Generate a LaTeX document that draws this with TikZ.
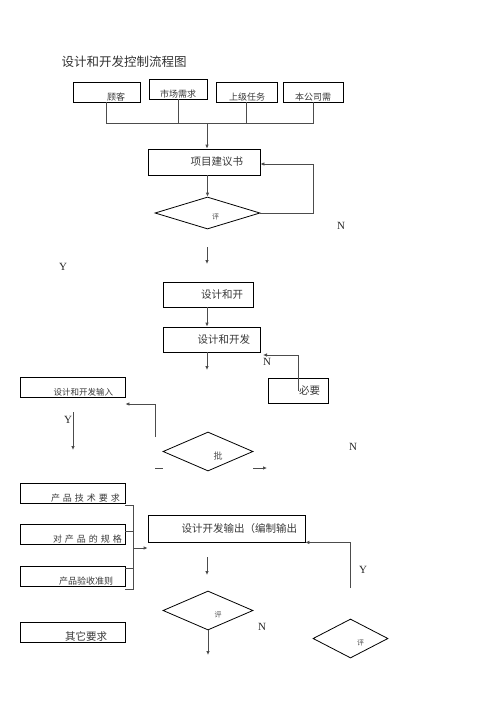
\documentclass[tikz,border=0pt]{standalone}
\usepackage{fontspec}
\setmainfont{Liberation Serif}
\newfontfamily\cjk{Noto Sans CJK SC}
\usetikzlibrary{arrows.meta,shapes.geometric}

\begin{document}
\begin{tikzpicture}[
  x=1pt, y=-1pt,
  >=Latex,
  box/.style={draw, line width=0.8pt, align=right, inner ysep=0pt, inner xsep=8pt, minimum height=20pt, text=black!78, font=\cjk\fontsize{10.5}{12}\selectfont},
  lowbox/.style={box, text height=16pt, text depth=0pt},
  topbox/.style={lowbox, font=\cjk\fontsize{9}{11}\selectfont},
  lbox/.style={lowbox, font=\cjk\fontsize{9}{11}\selectfont},
  dia/.style={draw, diamond, line width=0.8pt, inner sep=0pt, minimum width=90pt, minimum height=39pt},
  pzlab/.style={text=black!70, font=\cjk\fontsize{7}{8}\selectfont},
  yn/.style={text=black!85, font=\fontsize{11}{13}\selectfont},
  line/.style={draw=black!70, line width=0.9pt},
  arrow/.style={line, -{Latex[length=4pt,width=3.6pt]}}
]
\useasboundingbox (0,0) rectangle (496,702);
\node[anchor=west, text=black!80, font=\cjk\fontsize{12.5}{14}\selectfont] (title) at (58,62) {设计和开发控制流程图};
% inputs
\node[topbox, text width=37pt, inner xsep=15pt] (gk) at (106.5,92) {顾客};
\node[topbox, text width=42pt, align=center] (sc1) at (178,89) {市场需求};
\node[topbox, text width=37pt, inner xsep=12pt] (sj) at (246.5,92) {上级任务};
\node[topbox, text width=36pt, inner xsep=12pt] (bx) at (313,92) {本公司需};
\coordinate (bus) at (207,123);
\draw[line] (gk.south) -- (gk.south |- bus) -- (bx.south |- bus) -- (bx.south);
\draw[line] (sc1.south) -- (sc1.south |- bus);
\draw[line] (sj.south) -- (sj.south |- bus);
% proposal and review
\node[box, text width=78pt, inner xsep=17pt, minimum height=26pt] (jyb) at (204,162) {项目建议书};
\node[dia, minimum width=105pt, minimum height=32pt, label={[pzlab, xshift=8pt, yshift=-4pt]center:评}] (ps1) at (207.5,213) {};
\draw[arrow] (bus) -- (bus |- jyb.north);
\draw[arrow] (ps1.north |- jyb.south) -- (ps1.north);
\coordinate (f1) at (313,164);
\draw[arrow] (ps1.east) -| (f1) -- (jyb.east |- f1);
\node[yn] (n1) at (341,226) {N};
\coordinate (a1) at (207,247);
\coordinate (a1e) at (207,264);
\draw[arrow] (a1) -- (a1e);
\node[yn] (y1) at (63,267) {Y};
% planning and input
\node[box, text width=70pt, inner xsep=10pt, minimum height=25pt] (kf1) at (208,294.5) {设计和开};
\node[box, text width=77pt, inner xsep=10pt, minimum height=25pt] (kf2) at (211.5,339.5) {设计和开发};
\draw[arrow] (a1 |- kf1.south) -- (a1 |- kf2.north);
\coordinate (a2e) at (207,370);
\draw[arrow] (a1 |- kf2.south) -- (a2e);
\node[yn] (n2) at (267,362) {N};
\node[box, text width=44pt, minimum height=25pt] (bixu) at (298,390.5) {必要};
\coordinate (f2) at (263,355);
\draw[arrow] (bixu.center) |- (f2);
\node[lbox, font=\cjk\fontsize{8.5}{10}\selectfont, text width=81pt, inner xsep=12pt] (srb) at (72.5,387) {设计和开发输入};
\coordinate (f3a) at (155,437);
\coordinate (f3b) at (155,404);
\draw[arrow] (f3a) -- (f3b) -- (srb.east |- f3b);
\node[yn] (y2) at (68,420) {Y};
\coordinate (a3) at (73,412);
\coordinate (a3e) at (73,450);
\draw[arrow] (a3) -- (a3e);
% approval
\node[dia, label={[pzlab, font=\cjk\fontsize{9}{10}\selectfont, xshift=10pt, yshift=-5pt]center:批}] (pz) at (208,451.5) {};
\coordinate (s1) at (155,468);
\draw[line] (s1) -- (s1 -| pz.west);
\coordinate (s2) at (267,468);
\draw[arrow] (s2 -| pz.east) -- (s2);
\node[yn] (n3) at (353,447) {N};
% output
\node[lbox, text width=95pt, inner xsep=5pt] (cpA) at (72.5,493) {产 品 技 术 要 求};
\node[lbox, text width=99pt, inner xsep=3pt] (cpB) at (72.5,534) {对 产 品 的 规 格};
\node[lbox, text width=81pt, inner xsep=12pt] (cpC) at (72.5,576) {产品验收准则};
\node[lowbox, text width=69pt, inner xsep=18pt] (qt) at (72.5,632.5) {其它要求};
\node[box, text width=141pt, minimum height=27pt] (sc) at (226.5,528.5) {设计开发输出（编制输出};
\coordinate (brk) at (133,548);
\draw[line] ([yshift=-2pt]cpA.south east) -| ([yshift=-3pt]cpC.south east -| brk) -- ([yshift=-3pt]cpC.south east);
\draw[line] ([yshift=3pt]cpB.east) -- ([yshift=3pt]cpB.east -| brk);
\draw[line] ([yshift=-3pt]cpC.north east) -- ([yshift=-3pt]cpC.north east -| brk);
\draw[arrow] (brk) -- (sc.west |- brk);
\coordinate (a4) at (207,557);
\coordinate (a4e) at (207,575);
\draw[arrow] (a4) -- (a4e);
\coordinate (f4) at (350,588);
\draw[arrow] (f4) |- (sc.south east);
\node[yn] (y3) at (363,570) {Y};
% output review
\node[dia, label={[pzlab, xshift=10pt, yshift=-4pt]center:评}] (ps2) at (208,610.5) {};
\coordinate (a5e) at (208,655);
\draw[arrow] (ps2.south) -- (a5e);
\node[yn] (n4) at (262,627) {N};
\node[dia, minimum width=75pt, label={[pzlab, xshift=10pt, yshift=-4pt]center:评}] (ps3) at (350.5,638.5) {};
\end{tikzpicture}
\end{document}
